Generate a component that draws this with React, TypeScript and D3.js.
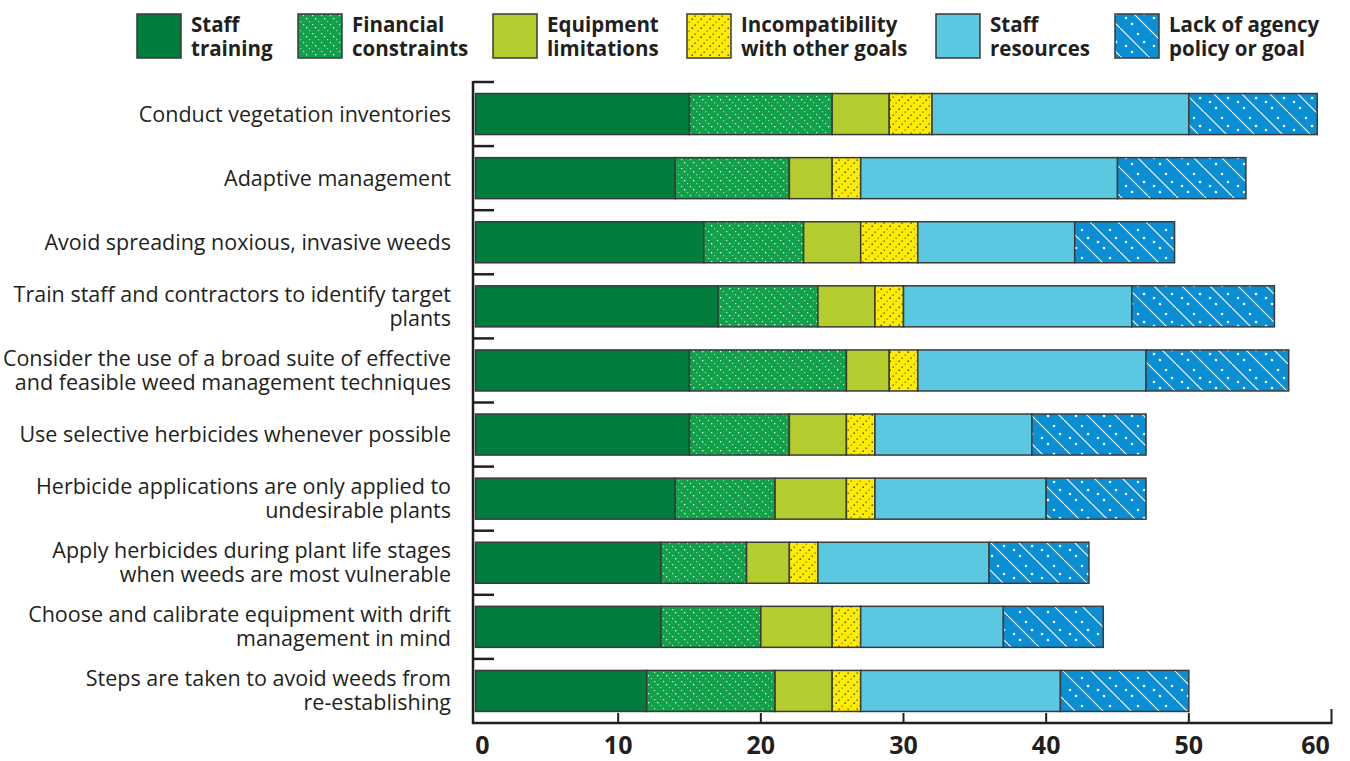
import React from "react";
import * as d3 from "d3";

const categories: string[][] = [
  ["Conduct vegetation inventories"],
  ["Adaptive management"],
  ["Avoid spreading noxious, invasive weeds"],
  ["Train staff and contractors to identify target", "plants"],
  ["Consider the use of a broad suite of effective", "and feasible weed management techniques"],
  ["Use selective herbicides whenever possible"],
  ["Herbicide applications are only applied to", "undesirable plants"],
  ["Apply herbicides during plant life stages", "when weeds are most vulnerable"],
  ["Choose and calibrate equipment with drift", "management in mind"],
  ["Steps are taken to avoid weeds from", "re-establishing"],
];

const seriesNames: string[][] = [
  ["Staff", "training"],
  ["Financial", "constraints"],
  ["Equipment", "limitations"],
  ["Incompatibility", "with other goals"],
  ["Staff", "resources"],
  ["Lack of agency", "policy or goal"],
];

const staffTraining = [15, 14, 16, 17, 15, 15, 14, 13, 13, 12];
const financialConstraints = [10, 8, 7, 7, 11, 7, 7, 6, 7, 9];
const equipmentLimitations = [4, 3, 4, 4, 3, 4, 5, 3, 5, 4];
const incompatibility = [3, 2, 4, 2, 2, 2, 2, 2, 2, 2];
const staffResources = [18, 18, 11, 16, 16, 11, 12, 12, 10, 14];
const lackOfPolicy = [9, 9, 7, 10, 10, 8, 7, 7, 7, 9];

const xTicks = [0, 10, 20, 30, 40, 50, 60];

const seriesValues = [
  staffTraining,
  financialConstraints,
  equipmentLimitations,
  incompatibility,
  staffResources,
  lackOfPolicy,
];

const fills = [
  "#007c3d",
  "url(#pat-fin)",
  "#b5cc2e",
  "url(#pat-inc)",
  "#5bc8e1",
  "url(#pat-lack)",
];

const legendX = [137, 298, 493, 687, 936, 1115];

const FONT = "'Open Sans', 'Noto Sans', sans-serif";
const INK = "#231f20";

export default function App() {
  const width = 1350;
  const height = 761;
  const x = d3.scaleLinear().domain([0, 60]).range([475.5, 1331.5]);
  const y = d3
    .scaleBand<number>()
    .domain(d3.range(categories.length))
    .range([82, 723])
    .paddingInner(0.36)
    .paddingOuter(0.18);
  const step = y.step();
  const bw = y.bandwidth();

  const rows = categories.map((_, i) => {
    let acc = 0;
    return seriesValues.map((vals, s) => {
      const x0 = acc;
      acc += vals[i];
      return { s, x0, x1: acc };
    });
  });

  return (
    <svg width={width} height={height} style={{ display: "block", position: "absolute", left: 0, top: 0 }}>
      <defs>
        <pattern id="pat-fin" patternUnits="userSpaceOnUse" width="9" height="9">
          <rect width="9" height="9" fill="#12a04a" />
          <rect x="0" y="0" width="1.3" height="1.3" fill="#ffffff" opacity="0.95" />
          <rect x="3" y="3" width="1.2" height="1.2" fill="#ffffff" opacity="0.55" />
          <rect x="6" y="6" width="1.2" height="1.2" fill="#ffffff" opacity="0.8" />
        </pattern>
        <pattern id="pat-inc" patternUnits="userSpaceOnUse" width="9" height="9">
          <rect width="9" height="9" fill="#ffec00" />
          <rect x="7.5" y="0.5" width="1.4" height="1.4" fill="#2b2a1a" />
          <rect x="4.5" y="3.5" width="1.3" height="1.3" fill="#5a5520" opacity="0.8" />
          <rect x="1.5" y="6.5" width="1.3" height="1.3" fill="#2b2a1a" opacity="0.9" />
        </pattern>
        <pattern id="pat-lack" patternUnits="userSpaceOnUse" width="28" height="28">
          <rect width="28" height="28" fill="#0a8fd4" />
          <line x1="-2" y1="-2" x2="30" y2="30" stroke="#ffffff" strokeWidth="1.1" />
          <circle cx="18" cy="6" r="1.3" fill="#ffffff" />
          <circle cx="24" cy="14" r="1.3" fill="#ffffff" />
          <circle cx="6" cy="18" r="1.3" fill="#ffffff" />
          <circle cx="12" cy="24" r="1.3" fill="#ffffff" />
        </pattern>
      </defs>

      {/* Legend */}
      {seriesNames.map((lines, s) => (
        <g key={s}>
          <rect
            x={legendX[s]}
            y={14}
            width={44}
            height={44}
            fill={fills[s]}
            stroke="#3a3a3a"
            strokeWidth={1.5}
          />
          <text
            x={legendX[s] + 54}
            y={32}
            fontFamily={FONT}
            fontWeight={700}
            fontSize={20.5}
            fill={INK}
          >
            {lines.map((l, k) => (
              <tspan key={k} x={legendX[s] + 54} dy={k === 0 ? 0 : 24}>
                {l}
              </tspan>
            ))}
          </text>
        </g>
      ))}

      {/* Bars */}
      {rows.map((segs, i) =>
        segs.map((d) => (
          <rect
            key={`${i}-${d.s}`}
            x={x(d.x0)}
            y={y(i)!}
            width={x(d.x1) - x(d.x0)}
            height={bw}
            fill={fills[d.s]}
            stroke="#3a3a3a"
            strokeWidth={1.5}
          />
        ))
      )}

      {/* Category labels */}
      {categories.map((lines, i) => {
        const cy = y(i)! + bw / 2;
        const lh = 24;
        const first = cy - ((lines.length - 1) * lh) / 2 + 7.5;
        return (
          <text
            key={i}
            textAnchor="end"
            fontFamily={FONT}
            fontSize={21.5}
            fill={INK}
          >
            {lines.map((l, k) => (
              <tspan key={k} x={451} y={first + k * lh}>
                {l}
              </tspan>
            ))}
          </text>
        );
      })}

      {/* Y axis with band ticks */}
      <line x1={473} y1={81} x2={473} y2={724} stroke={INK} strokeWidth={2.5} />
      {categories.map((_, i) => {
        const ty = y(i)! - (step - bw) / 2;
        return (
          <line key={i} x1={473} y1={ty} x2={494} y2={ty} stroke={INK} strokeWidth={2.5} />
        );
      })}

      {/* X axis */}
      <line x1={472} y1={723} x2={x(60) + 1} y2={723} stroke={INK} strokeWidth={2.5} />
      {xTicks.slice(1).map((t) => (
        <line
          key={t}
          x1={x(t)}
          y1={723}
          x2={x(t)}
          y2={t === 60 ? 709 : 713}
          stroke={INK}
          strokeWidth={2}
        />
      ))}
      {xTicks.map((t, k) => (
        <text
          key={t}
          x={k === 0 ? x(t) + 7 : k === xTicks.length - 1 ? x(t) - 16 : x(t)}
          y={754}
          textAnchor="middle"
          fontFamily={FONT}
          fontWeight={700}
          fontSize={25}
          fill={INK}
        >
          {t}
        </text>
      ))}
    </svg>
  );
}
